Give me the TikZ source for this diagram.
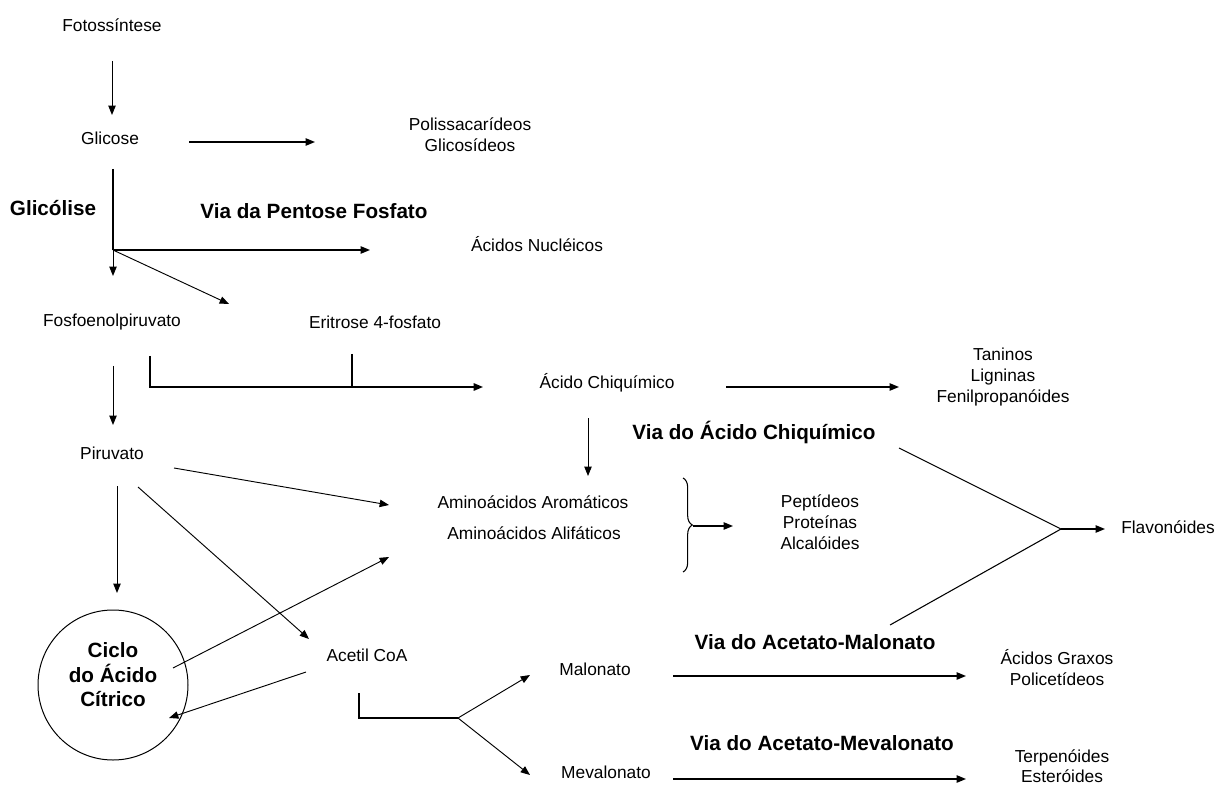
\documentclass[tikz,border=0pt]{standalone}
\usepackage{fontspec}
\setmainfont{Liberation Sans}
\usetikzlibrary{arrows.meta,decorations.pathreplacing}
\begin{document}
\begin{tikzpicture}[x=0.75pt, y=-0.75pt,
    seta/.style={-{Triangle[length=7pt,width=5.5pt]}, line width=0.7pt},
    lbl/.style={font=\fontsize{13}{15.75}\selectfont, align=center, inner sep=0pt},
    via/.style={font=\fontsize{15.5}{18.4}\selectfont\bfseries, align=center, inner sep=0pt}]
    \useasboundingbox (0,0) rectangle (1219,787);
    % compostos
    \node[lbl] (foto) at (112,25) {Fotossíntese}; \node[lbl] (glic) at (110,138) {Glicose};
    \node[lbl] (poli) at (470,135) {Polissacarídeos\\Glicosídeos};
    \node[lbl] (acnuc) at (537,244) {Ácidos Nucléicos};
    \node[lbl] (pep) at (112,322) {Fosfoenolpiruvato}; \node[lbl] (erit) at (375,322) {Eritrose 4-fosfato};
    \node[lbl] (chiq) at (607,383) {Ácido Chiquímico};
    \node[lbl] (tanin) at (1003,377) {Taninos\\Ligninas\\Fenilpropanóides};
    \node[lbl] (piru) at (112,453) {Piruvato};
    \node[lbl] (aroma) at (533,502) {Aminoácidos Aromáticos}; \node[lbl] (alifa) at (534,533) {Aminoácidos Alifáticos};
    \node[lbl] (peptid) at (820,522) {Peptídeos\\Proteínas\\Alcalóides};
    \node[lbl] (flavo) at (1168,527) {Flavonóides};
    \node[lbl] (acetil) at (367,655) {Acetil CoA};
    \node[lbl] (malon) at (595,669) {Malonato}; \node[lbl] (meval) at (606,772) {Mevalonato};
    \node[lbl] (agrax) at (1057,668) {Ácidos Graxos\\Policetídeos};
    \node[lbl, font=\fontsize{13}{15}\selectfont] (terpen) at (1062,766) {Terpenóides\\Esteróides};
    \node[draw, circle, minimum size=112.5pt, line width=0.75pt] (ciclo) at (113,685) {};
    \node[via] (ciclotxt) at (113,675) {Ciclo\\do Ácido\\Cítrico};
    % vias
    \node[via] (glicol) at (53,208) {Glicólise}; \node[via] (pentose) at (314,211) {Via da Pentose Fosfato};
    \node[via] (viachiq) at (754,432) {Via do Ácido Chiquímico};
    \node[via] (viamal) at (815,642) {Via do Acetato-Malonato}; \node[via] (viamev) at (822,743) {Via do Acetato-Mevalonato};
    % pontos das setas
    \coordinate (f1) at (112,61); \coordinate (f2) at (112,115); \coordinate (g0) at (189,142); \coordinate (g1) at (315,142);
    \coordinate (gt) at (113,169); \coordinate (gb) at (113,250); \coordinate (gd) at (113,276);
    \coordinate (gn) at (370,250); \coordinate (ge) at (229,304);
    \coordinate (p1) at (150,356); \coordinate (p2) at (150,387); \coordinate (p3) at (483,387);
    \coordinate (e1) at (352,354); \coordinate (e2) at (352,387); \coordinate (p4) at (113,366); \coordinate (p5) at (113,425);
    \coordinate (c1) at (726,387); \coordinate (c2) at (899,387); \coordinate (c3) at (588,418); \coordinate (c4) at (588,476);
    \coordinate (r1) at (117,486); \coordinate (r2) at (117,593); \coordinate (r3) at (174,468); \coordinate (r4) at (389,505);
    \coordinate (r5) at (138,487); \coordinate (r6) at (309,639);
    \coordinate (k1) at (173,668); \coordinate (k2) at (389,557); \coordinate (k3) at (306,672); \coordinate (k4) at (169,718);
    \coordinate (a1) at (359,693); \coordinate (a2) at (359,718); \coordinate (a3) at (458,718);
    \coordinate (m1) at (530,675); \coordinate (v1) at (530,775);
    \coordinate (m2) at (673,676); \coordinate (m3) at (966,676); \coordinate (v2) at (673,779); \coordinate (v3) at (966,779);
    \coordinate (x1) at (899,448); \coordinate (x0) at (1061,529); \coordinate (x2) at (890,625); \coordinate (x3) at (1105,529);
    \coordinate (b1) at (683,478); \coordinate (b2) at (683,572); \coordinate (b0) at (693,526); \coordinate (b3) at (733,526);
    % setas
    \foreach \s/\t in {f1/f2, gb/gd, gb/ge, p4/p5, c3/c4, r1/r2, r3/r4, r5/r6, k1/k2, k3/k4, a3/m1, a3/v1}
        \draw[seta] (\s) -- (\t);
    \foreach \s/\t in {g0/g1, gb/gn, c1/c2, m2/m3, v2/v3, x0/x3, b0/b3}
        \draw[seta, line width=1pt] (\s) -- (\t);
    \draw[line width=2pt] (gt) -- (gb);
    \draw[line width=1.3pt] (p1) -- (p2) -- (e2); \draw[line width=1.1pt] (e1) -- (e2);
    \draw[seta, line width=1.3pt] (e2) -- (p3);
    \draw[line width=1.5pt] (a1) -- (a2) -- (a3);
    \draw[line width=0.8pt] (x1) -- (x0) -- (x2);
    \draw[line width=0.8pt, decorate, decoration={brace, amplitude=7pt}] (b1) -- (b2);
\end{tikzpicture}
\end{document}
